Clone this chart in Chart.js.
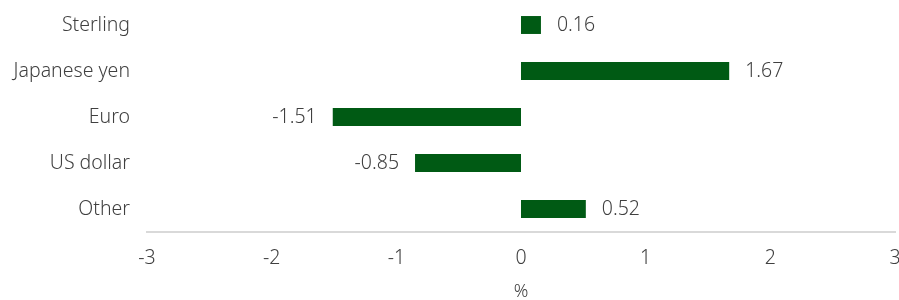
<!DOCTYPE html>
<html lang="en">
<head>
    <meta charset="UTF-8">
    <title>Currency contribution</title>
    <script src="https://cdn.jsdelivr.net/npm/chart.js"></script>
    <style>
        html, body { margin: 0; padding: 0; background: #fff; }
        .caixa { width: 899px; height: 300px; }
    </style>
</head>
<body>
    <div class="caixa">
        <canvas id="grafico_moedas"></canvas>
    </div>
<script>
    // categorias e valores
    const moedas = ['Sterling', 'Japanese yen', 'Euro', 'US dollar', 'Other'];
    const valores = [0.16, 1.67, -1.51, -0.85, 0.52];
    const ticksX = [-3, -2, -1, 0, 1, 2, 3];

    const corBarra = '#005a14';
    const corTexto = '#404040';
    const fonte = '"Noto Sans", sans-serif';

    // escreve o valor na ponta de cada barra
    const rotulosValor = {
        id: 'rotulosValor',
        afterDatasetsDraw(chart) {
            const ctx = chart.ctx;
            const meta = chart.getDatasetMeta(0);
            ctx.save();
            ctx.font = '300 19.5px ' + fonte;
            ctx.fillStyle = corTexto;
            ctx.textBaseline = 'middle';
            meta.data.forEach(function (barra, i) {
                const v = valores[i];
                if (v >= 0) {
                    ctx.textAlign = 'left';
                    ctx.fillText(v.toFixed(2), barra.x + 16, barra.y);
                } else {
                    ctx.textAlign = 'right';
                    ctx.fillText(v.toFixed(2), barra.x - 16, barra.y);
                }
            });
            ctx.restore();
        }
    };

    const dados = {
        labels: moedas,
        datasets: [{
            label: '%',
            data: valores,
            backgroundColor: corBarra,
            borderWidth: 0,
            barPercentage: 0.78,
            categoryPercentage: 0.5
        }]
    };

    const config = {
        type: 'bar',
        data: dados,
        options: {
            indexAxis: 'y',
            responsive: false,
            animation: false,
            layout: { padding: { top: 2, right: 4, left: 0, bottom: 0 } },
            plugins: {
                legend: { display: false },
                tooltip: { enabled: false }
            },
            scales: {
                x: {
                    min: -3,
                    max: 3,
                    afterBuildTicks(scale) {
                        scale.ticks = ticksX.map(function (t) { return { value: t }; });
                    },
                    afterFit(scale) {
                        scale.height = 68;
                        scale.paddingLeft = 0;
                        scale.paddingRight = 0;
                    },
                    grid: { display: false, drawTicks: false },
                    border: { display: true, color: '#d9d9d9', width: 2 },
                    ticks: {
                        color: corTexto,
                        padding: 15,
                        font: { family: fonte, size: 19.5, weight: 300 }
                    },
                    title: {
                        display: true,
                        text: '%',
                        color: corTexto,
                        padding: { top: 0, bottom: -1 },
                        font: { family: fonte, size: 18, weight: 300, lineHeight: 1 }
                    }
                },
                y: {
                    afterFit(scale) {
                        scale.width = 147;
                        scale.paddingTop = 0;
                        scale.paddingBottom = 0;
                    },
                    grid: { display: false, drawTicks: false },
                    border: { display: false },
                    ticks: {
                        color: corTexto,
                        padding: 17,
                        font: { family: fonte, size: 19.5, weight: 300 }
                    }
                }
            }
        },
        plugins: [rotulosValor]
    };

    const canvas = document.getElementById('grafico_moedas');
    canvas.width = 899;
    canvas.height = 300;
    let grafico = new Chart(canvas, config);
</script>
</body>
</html>
